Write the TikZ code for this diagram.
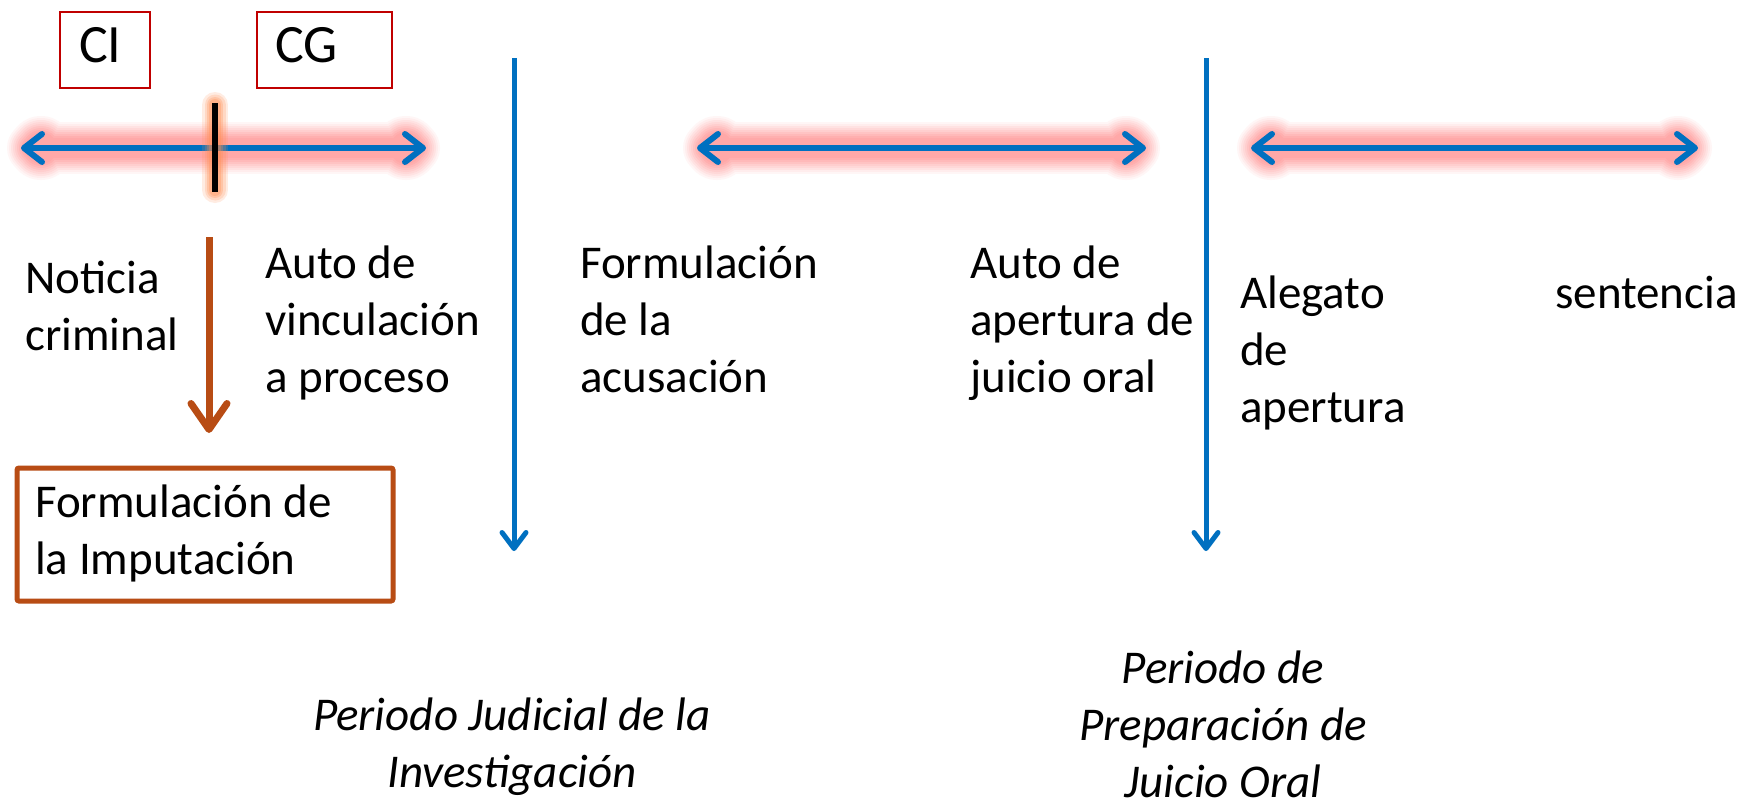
\documentclass[tikz,border=0pt]{standalone}
\usepackage{fontspec}
\setmainfont{Carlito}
\usetikzlibrary{arrows.meta,calc}
\definecolor{blul}{RGB}{0,112,192}
\definecolor{brownl}{RGB}{184,76,20}
\definecolor{boxred}{RGB}{192,0,0}
\definecolor{glowc}{RGB}{255,105,105}
\definecolor{glowo}{RGB}{255,140,80}
\newcommand\glowbar[2]{%
  \foreach \w/\p in {52/6,48/12,44/19,40/26,36/33,32/40,28/47,24/53,20/58}{%
    \draw[line width=\w pt, glowc!\p!white, line cap=round] ($(#1)+(12,0)$) -- ($(#2)+(-12,0)$);
    \fill[glowc!\p!white] ($(#1)+(20,0)$) circle ({\w/2+6});
    \fill[glowc!\p!white] ($(#2)+(-20,0)$) circle ({\w/2+6});
  }}
\begin{document}
\begin{tikzpicture}[x=1pt,y=-1pt,
  txt/.style={anchor=base west, inner sep=0pt, align=left, font=\fontsize{47}{57}\selectfont},
  ptxt/.style={anchor=base, inner sep=0pt, align=center, font=\fontsize{47}{57}\selectfont\itshape},
  cbox/.style={draw=boxred, line width=2pt, anchor=north west, inner sep=0pt, minimum height=76pt},
  hbar/.style={blul, line width=6pt, {Straight Barb[length=18pt,width=28pt,round]}-{Straight Barb[length=18pt,width=28pt,round]}},
  vbar/.style={blul, line width=5pt, -{Straight Barb[length=16pt,width=24pt,round]}},
  barrow/.style={brownl, line width=7pt, -{Straight Barb[length=26pt,width=36pt,round]}}]
\fill[white] (0,0) rectangle (1756,798);
\useasboundingbox (0,0) rectangle (1756,798);

% timeline coordinates
\coordinate (h1a) at (21,148);   \coordinate (h1b) at (426,148);
\coordinate (h2a) at (697,148);  \coordinate (h2b) at (1146,148);
\coordinate (h3a) at (1251,148); \coordinate (h3b) at (1698,148);
\coordinate (v1a) at (514,58);   \coordinate (v1b) at (514,551);
\coordinate (v2a) at (1206,58);  \coordinate (v2b) at (1206,551);
\coordinate (t1) at (215,103);   \coordinate (t2) at (215,192);
\coordinate (b1) at (209,237);   \coordinate (b2) at (209,433);

% glows
\glowbar{h1a}{h1b}
\glowbar{h2a}{h2b}
\glowbar{h3a}{h3b}

% horizontal arrows
\draw[hbar] (h1a) -- (h1b);
\draw[hbar] (h2a) -- (h2b);
\draw[hbar] (h3a) -- (h3b);

% tick with orange glow
\foreach \w/\o in {26/0.16,21/0.2,16/0.26,12/0.3}{
  \draw[line width=\w pt, glowo, draw opacity=\o, line cap=round] ($(t1)+(0,2)$) -- ($(t2)+(0,-2)$);
}
\draw[black, line width=6pt] (t1) -- (t2);

% vertical arrows
\draw[vbar] (v1a) -- (v1b);
\draw[vbar] (v2a) -- (v2b);

% CI / CG boxes
\node[cbox, minimum width=90pt] (cibox) at (59,11) {};
\node[cbox, minimum width=135pt] (cgbox) at (256,11) {};
\node[txt, font=\fontsize{54}{60}\selectfont] (ci) at (79,62) {CI};
\node[txt, font=\fontsize{54}{60}\selectfont] (cg) at (275,62) {CG};

% brown arrow and box
\draw[barrow] (b1) -- (b2);
\node[draw=brownl, line width=5pt, rounded corners=2pt, anchor=north west, inner sep=0pt,
      minimum width=376pt, minimum height=133pt] (impbox) at (14.5,465.5) {};
\node[txt] (imptxt) at (35,574) {Formulación de\\la Imputación};

% labels (base anchor = last line)
\node[txt] (noticia) at (25,350) {Noticia\\criminal};
\node[txt] (auto1) at (265,392) {Auto de\\vinculación\\a proceso};
\node[txt] (formacu) at (580,392) {Formulación\\de la\\acusación};
\node[txt] (auto2) at (970,392) {Auto de\\apertura de\\juicio oral};
\node[txt] (alegato) at (1240,422) {Alegato\\de\\apertura};
\node[txt] (sent) at (1555,308) {sentencia};

% period labels
\node[ptxt] (per1) at (512,787) {Periodo Judicial de la\\Investigación};
\node[ptxt] (per2) at (1223,797) {Periodo de\\Preparación de\\Juicio Oral};
\end{tikzpicture}
\end{document}
